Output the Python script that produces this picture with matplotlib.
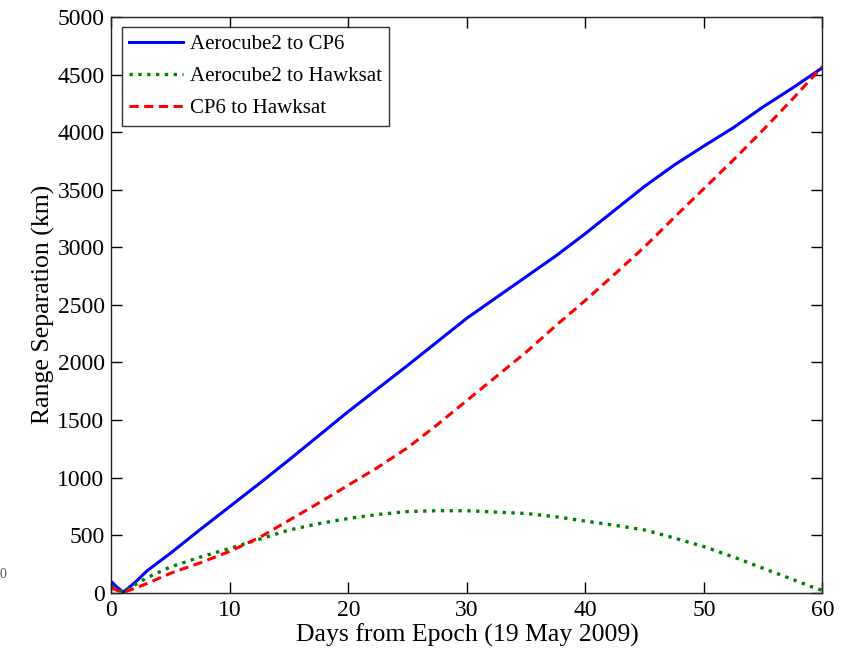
import matplotlib
matplotlib.use('Agg')
import matplotlib.pyplot as plt

plt.rcParams['font.family'] = ['Liberation Serif', 'DejaVu Serif']

# 读取自图片的数据（天数，距离 km）
days = [0, 0.5, 1, 2, 3, 5, 7.5, 10, 12.5, 15, 17.5, 20, 22.5, 25, 27.5, 30,
        32.5, 35, 37.5, 40, 42.5, 45, 47.5, 50, 52.5, 55, 57.5, 60]
aero_cp6 = [95, 45, 5, 90, 190, 345, 550, 750, 950, 1155, 1365, 1575, 1775,
            1975, 2180, 2385, 2565, 2745, 2925, 3120, 3325, 3530, 3715, 3880,
            4040, 4220, 4385, 4560]
cp6_hawk = [40, 20, 2, 40, 80, 170, 260, 360, 480, 630, 780, 935, 1090, 1260,
            1460, 1670, 1880, 2090, 2320, 2540, 2770, 3005, 3260, 3510, 3760,
            4020, 4290, 4570]
days_g = [0, 0.5, 1, 2, 3, 5, 7.5, 10, 12.5, 15, 17.5, 20, 22.5, 25, 27.5, 30,
          32.5, 35, 37.5, 40, 42.5, 45, 47.5, 50, 52.5, 55, 57.5, 59, 60]
aero_hawk = [60, 30, 5, 70, 130, 225, 310, 385, 465, 545, 600, 645, 680, 705,
             712, 712, 700, 688, 660, 622, 585, 545, 475, 400, 310, 212, 115,
             55, 20]

fig = plt.figure(figsize=(8.42, 6.53), dpi=100)
ax = fig.add_axes([0.1324, 0.0923, 0.8444, 0.8817])

ax.plot(days, aero_cp6, '-', color='#0000ff', linewidth=2.2, label='Aerocube2 to CP6')
ax.plot(days_g, aero_hawk, ':', color='#008000', linewidth=2.4, label='Aerocube2 to Hawksat')
ax.plot(days, cp6_hawk, '--', color='#ff0000', linewidth=2.2, dashes=(3, 1.8), label='CP6 to Hawksat')

ax.set_xlim(0, 60)
ax.set_ylim(0, 5000)
ax.set_xticks(range(0, 61, 10))
ax.set_yticks(range(0, 5001, 500))
ax.tick_params(direction='in', top=True, right=True, labelsize=17, length=8, width=1, pad=5)
for s in ax.spines.values():
    s.set_linewidth(1)
    s.set_color('#222222')
ax.set_xlabel('Days from Epoch (19 May 2009)', fontsize=18.5, labelpad=2)
ax.set_ylabel('Range Separation (km)', fontsize=18.5, labelpad=2)

leg = ax.legend(loc='upper left', fontsize=15, frameon=True, fancybox=False,
                handlelength=2.6, borderaxespad=0.5, handletextpad=0.3,
                labelspacing=0.6, borderpad=0.35)
leg.get_frame().set_edgecolor('black')
leg.get_frame().set_linewidth(1)

# 左边缘被裁掉的残留文字
fig.text(0.0, 1 - 574 / 653, '0', fontsize=10, color='#555555', ha='left', va='center')

fig.savefig('out.png', dpi=100)
plt.close(fig)
